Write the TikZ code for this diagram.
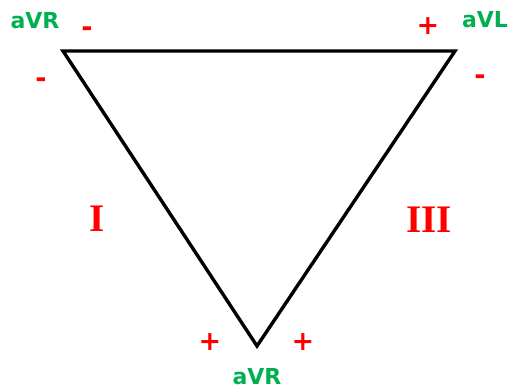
\documentclass[tikz,border=0pt]{standalone}
\usepackage{fontspec}
\setmainfont{Liberation Serif}
\newfontfamily\lblfont{DejaVu Sans}
\definecolor{lblgreen}{RGB}{0,176,80}
\definecolor{sgnred}{RGB}{255,0,0}
\tikzset{
  lead/.style={font=\lblfont\bfseries\fontsize{22}{22}\selectfont, text=lblgreen, inner sep=0pt},
  sgn/.style={font=\lblfont\bfseries\fontsize{27}{27}\selectfont, text=sgnred, inner sep=0pt},
  roman/.style={font=\bfseries\fontsize{39}{39}\selectfont, text=sgnred, inner sep=0pt},
  side/.style={line width=3.4pt, black, line join=miter}
}
\begin{document}
\begin{tikzpicture}[x=1pt,y=-1pt]
\useasboundingbox (0,0) rectangle (508,390);
\coordinate (ra) at (63,51);
\coordinate (la) at (455,51);
\coordinate (ll) at (257,346);
\draw[side] (ra) -- (la) -- (ll) -- cycle;
\node[lead] (t1) at (35,21) {aVR};
\node[lead] (t2) at (485,20) {aVL};
\node[lead] (t3) at (257,377) {aVR};
\node[sgn] (s1) at (87,32) {-};
\node[sgn] (s2) at (41,83) {-};
\node[sgn] (s3) at (428,26) {+};
\node[sgn] (s4) at (480,80) {-};
\node[sgn] (s5) at (210,342) {+};
\node[sgn] (s6) at (303,342) {+};
\node[roman] (r1) at (97,219) {I};
\node[roman] (r3) at (429,220) {III};
\end{tikzpicture}
\end{document}
